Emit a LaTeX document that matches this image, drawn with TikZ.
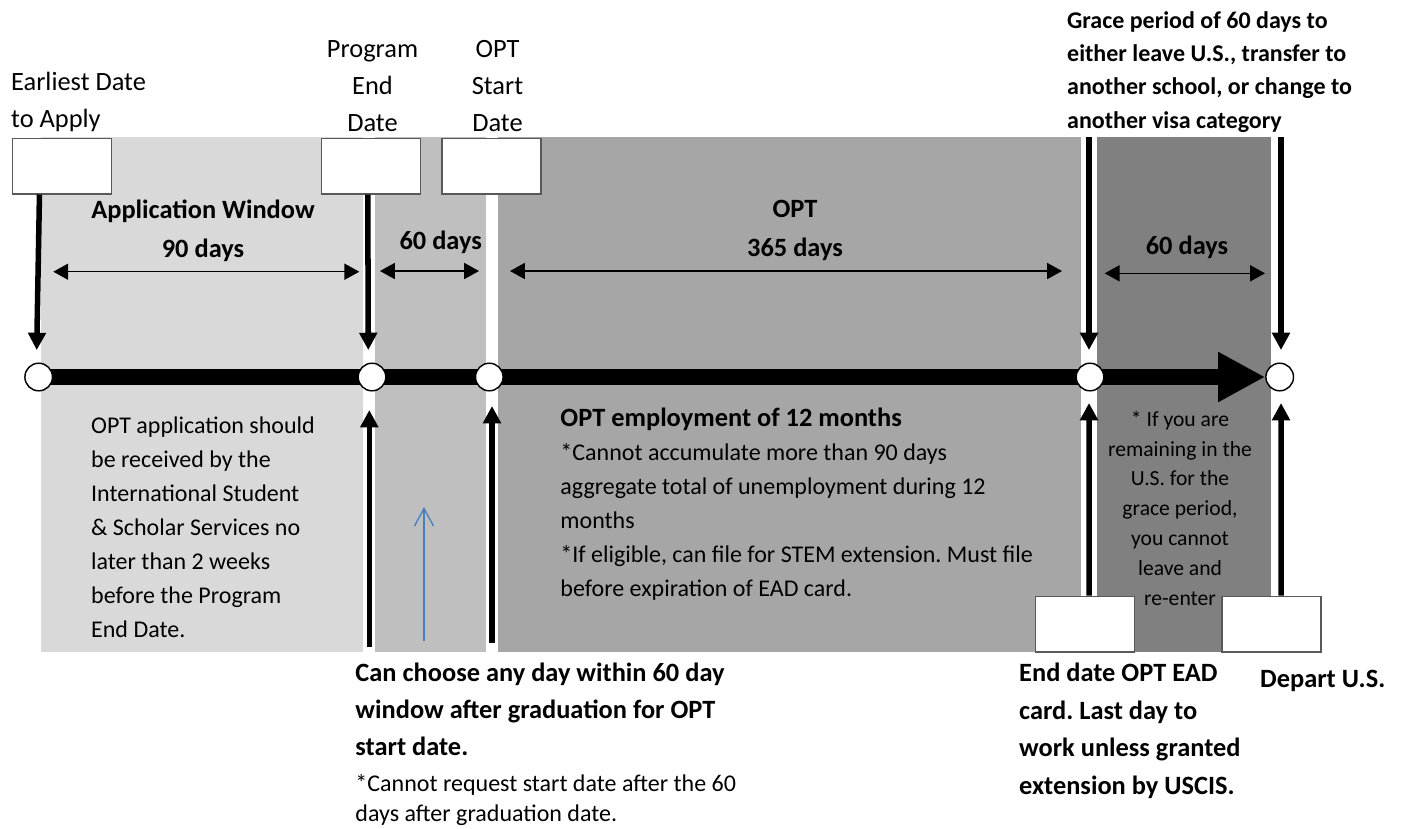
\documentclass[tikz,border=0pt]{standalone}
\usepackage{fontspec}
\setmainfont{Carlito}
\usetikzlibrary{arrows.meta,calc}
\pgfdeclarelayer{bg}
\pgfsetlayers{bg,main}
\definecolor{gA}{HTML}{D9D9D9}
\definecolor{gB}{HTML}{BFBFBF}
\definecolor{gC}{HTML}{A6A6A6}
\definecolor{gD}{HTML}{808080}
\definecolor{blueA}{HTML}{4A7EBB}
\definecolor{boxline}{HTML}{595959}
\tikzset{
  datebox/.style={draw=boxline, line width=0.45pt, fill=white, minimum width=41.25pt, minimum height=23.3pt, inner sep=0pt},
  dot/.style={circle, draw=black, line width=0.6pt, fill=white, minimum size=11.5pt, inner sep=0pt},
  heavyarrow/.style={line width=2.3pt, -{Triangle[width=7.2pt,length=7.2pt]}},
  spanarrow/.style={line width=0.6pt, {Triangle[width=6.7pt,length=6.2pt]}-{Triangle[width=6.7pt,length=6.2pt]}},
  bluearrow/.style={draw=blueA, line width=0.55pt, -{Straight Barb[width=8pt,length=7.4pt]}},
  lblA/.style={inner sep=0pt, font=\fontsize{11pt}{15.4pt}\selectfont},
  lblB/.style={inner sep=0pt, font=\bfseries\fontsize{11pt}{16.1pt}\selectfont},
  lblC/.style={inner sep=0pt, font=\fontsize{10pt}{14.1pt}\selectfont},
  lblD/.style={inner sep=0pt, font=\bfseries\fontsize{11pt}{15.4pt}\selectfont},
  lblE/.style={inner sep=0pt, font=\fontsize{9pt}{12.4pt}\selectfont},
  lblF/.style={inner sep=0pt, font=\bfseries\fontsize{10pt}{13.9pt}\selectfont},
  lblG/.style={inner sep=0pt, font=\fontsize{10pt}{12.5pt}\selectfont},
}
\begin{document}
\frenchspacing
\begin{tikzpicture}[x=0.41667pt,y=-0.41667pt]
\useasboundingbox (0,0) rectangle (1402,828);

% date boxes
\node[datebox] (b1) at (62.2,166) {};
\node[datebox] (b2) at (371.2,166) {};
\node[datebox] (b3) at (491.5,166) {};
\node[datebox] (b4) at (1085.4,624) {};
\node[datebox] (b5) at (1271.5,624) {};

% timeline points
\node[dot] (c1) at (38.7,377) {};
\node[dot] (c2) at (372,377) {};
\node[dot] (c3) at (489.3,377) {};
\node[dot] (c4) at (1090,377) {};
\node[dot] (c5) at (1279.7,377) {};

% free ends
\coordinate (t1) at (36.7,350);
\coordinate (t2) at (368.3,350);
\coordinate (s3) at (1089,137);
\coordinate (t3) at (1089,350);
\coordinate (s4) at (1281,137);
\coordinate (t4) at (1281,350);
\coordinate (u1s) at (369.3,647);
\coordinate (u1t) at (369.3,410);
\coordinate (u2s) at (492,643);
\coordinate (u2t) at (492,406);
\coordinate (u3t) at (1089,403);
\coordinate (u4t) at (1281,403);
\coordinate (bls) at (424,641);
\coordinate (blt) at (424,507);
\coordinate (d1a) at (53.3,271.7);
\coordinate (d1b) at (359.3,271.7);
\coordinate (d2a) at (380,271);
\coordinate (d2b) at (479,271);
\coordinate (d3a) at (510,271);
\coordinate (d3b) at (1062,271);
\coordinate (d4a) at (1104.7,273.3);
\coordinate (d4b) at (1265,273.3);

\begin{pgfonlayer}{bg}
  \fill[gA] (40.7,137) rectangle (362.7,652.3);
  \fill[gB] (375,137) rectangle (486,652.3);
  \fill[gC] (497.7,137) rectangle (1081,652.3);
  \fill[gD] (1097,137) rectangle (1271,652.3);
  \draw[line width=6.5pt, -{Triangle[width=19.5pt,length=19.6pt]}] (c1.center) -- (c5.west);
\end{pgfonlayer}

% down arrows
\draw[heavyarrow] ($(b1.south west)+(27.3,0)$) -- (t1);
\draw[heavyarrow] ($(b2.south west)+(46.6,0)$) -- (t2);
\draw[heavyarrow] (s3) -- (t3);
\draw[heavyarrow] (s4) -- (t4);

% up arrows
\draw[heavyarrow] (u1s) -- (u1t);
\draw[heavyarrow] (u2s) -- (u2t);
\draw[heavyarrow] ($(b4.north)+(3.6,0)$) -- (u3t);
\draw[heavyarrow] ($(b5.north)+(9.5,0)$) -- (u4t);
\draw[bluearrow] (bls) -- (blt);

% span arrows
\draw[spanarrow] (d1a) -- (d1b);
\draw[spanarrow] (d2a) -- (d2b);
\draw[spanarrow] (d3a) -- (d3b);
\draw[spanarrow] (d4a) -- (d4b);

% labels above (anchor base = baseline of last line)
\node[lblA, anchor=base west, align=left] (l1) at (10.7,127) {Earliest Date\\to Apply};
\node[lblA, anchor=base, align=center] (l2) at (372.5,131) {Program\\End\\Date};
\node[lblA, anchor=base, align=center] (l3) at (497.5,131) {OPT\\Start\\Date};
\node[lblF, anchor=base west, align=left] (l4) at (1066.7,128.3) {Grace period of 60 days to\\either leave U.S., transfer to\\another school, or change to\\another visa category};

% period labels
\node[lblB, anchor=base, align=center] (p1) at (203,257) {Application Window\\90 days};
\node[lblB, anchor=base] (p2) at (440.7,249) {60 days};
\node[lblB, anchor=base, align=center] (p3) at (795,256) {OPT\\365 days};
\node[lblB, anchor=base] (p4) at (1187,254) {60 days};

% texts in regions
\node[lblC, anchor=base west, align=left] (x1) at (90.7,637) {OPT application should\\be received by the\\International Student\\\& Scholar Services no\\later than 2 weeks\\before the Program\\End Date.};
\node[lblC, anchor=base west, align=left] (x2) at (560,596) {{\bfseries\fontsize{11pt}{14.1pt}\selectfont OPT employment of 12 months}\\*Cannot accumulate more than 90 days\\aggregate total of unemployment during 12\\months\\*If eligible, can file for STEM extension. Must file\\before expiration of EAD card.};
\node[lblE, anchor=base, align=center] (x3) at (1180,605) {* If you are\\remaining in the\\U.S. for the\\grace period,\\you cannot\\leave and\\re-enter};

% labels below
\node[lblD, anchor=base west, align=left] (q1) at (355,755) {Can choose any day within 60 day\\window after graduation for OPT\\start date.};
\node[lblG, anchor=base west, align=left] (q2) at (355,821.7) {*Cannot request start date after the 60\\days after graduation date.};
\node[lblD, anchor=base west, align=left, font=\bfseries\fontsize{11pt}{15.6pt}\selectfont] (q3) at (1018.7,794) {End date OPT EAD\\card. Last day to\\work unless granted\\extension by USCIS.};
\node[lblD, anchor=base west] (q4) at (1259.7,687.3) {Depart U.S.};
\end{tikzpicture}
\end{document}
